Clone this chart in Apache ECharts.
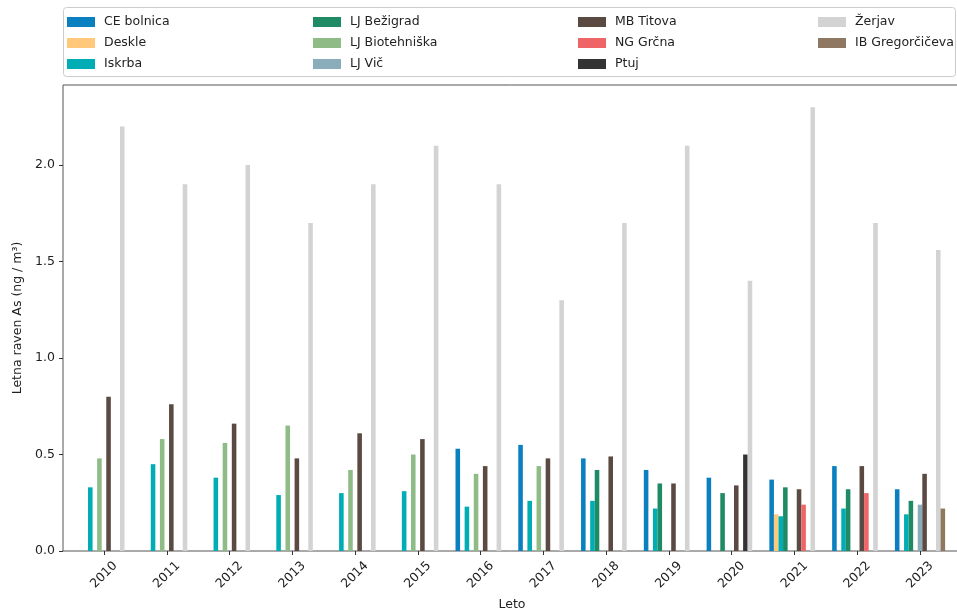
<!DOCTYPE html>
<html><head><meta charset="utf-8">
<script src="https://cdn.jsdelivr.net/npm/echarts@6/dist/echarts.min.js"></script>
<style>html,body{margin:0;padding:0;background:#fff}#c{width:957px;height:610px}</style>
</head><body><div id="c"></div>
<script>
// ---- data ----
const years = ['2010','2011','2012','2013','2014','2015','2016','2017','2018','2019','2020','2021','2022','2023'];
const ceBolnica      = [null, null, null, null, null, null, 0.53, 0.55, 0.48, 0.42, 0.38, 0.37, 0.44, 0.32];
const deskle         = [null, null, null, null, null, null, null, null, null, null, null, 0.19, null, null];
const iskrba         = [0.33, 0.45, 0.38, 0.29, 0.30, 0.31, 0.23, 0.26, 0.26, 0.22, null, 0.18, 0.22, 0.19];
const ljBezigrad     = [null, null, null, null, null, null, null, null, 0.42, 0.35, 0.30, 0.33, 0.32, 0.26];
const ljBiotehniska  = [0.48, 0.58, 0.56, 0.65, 0.42, 0.50, 0.40, 0.44, null, null, null, null, null, null];
const ljVic          = [null, null, null, null, null, null, null, null, null, null, null, null, null, 0.24];
const mbTitova       = [0.80, 0.76, 0.66, 0.48, 0.61, 0.58, 0.44, 0.48, 0.49, 0.35, 0.34, 0.32, 0.44, 0.40];
const ngGrcna        = [null, null, null, null, null, null, null, null, null, null, null, 0.24, 0.30, null];
const ptuj           = [null, null, null, null, null, null, null, null, null, null, 0.50, null, null, null];
const zerjav         = [2.2, 1.9, 2.0, 1.7, 1.9, 2.1, 1.9, 1.3, 1.7, 2.1, 1.4, 2.3, 1.7, 1.56];
const ibGregorciceva = [null, null, null, null, null, null, null, null, null, null, null, null, null, 0.22];
const seriesNames = ['CE bolnica','Deskle','Iskrba','LJ Bežigrad','LJ Biotehniška','LJ Vič','MB Titova','NG Grčna','Ptuj','Žerjav','IB Gregorčičeva'];
const seriesValues = [ceBolnica, deskle, iskrba, ljBezigrad, ljBiotehniska, ljVic, mbTitova, ngGrcna, ptuj, zerjav, ibGregorciceva];
const yTicks = [0, 0.5, 1.0, 1.5, 2.0];
const yMax = 2.415;

// ---- styles ----
const seriesColors = ['#0a80c0','#ffc87a','#00adb5','#1f8b64','#8fbb87','#8badb9','#5b4a42','#ef6466','#333333','#d3d3d3','#8f7861'];
const FONT = 'DejaVu Sans';
const TXT = '#222';

const chart = echarts.init(document.getElementById('c'), null, {renderer: 'canvas'});

const legendCols = [[0,1,2],[3,4,5],[6,7,8],[9,10]];
const legendLeft = [67, 313, 578, 818];
const legends = legendCols.map((idx, k) => ({
  orient: 'vertical', left: legendLeft[k], top: 15, padding: 0,
  itemWidth: 28, itemHeight: 10, itemGap: 7, icon: 'rect',
  selectedMode: false,
  data: idx.map(i => seriesNames[i]),
  textStyle: {fontFamily: FONT, fontSize: 12.5, color: TXT, lineHeight: 14, padding: [0,0,0,4]}
}));

const option = {
  animation: false,
  backgroundColor: '#fff',
  graphic: [{
    type: 'rect', z: -1, silent: true,
    shape: {x: 63.5, y: 7.5, width: 892, height: 69, r: 3},
    style: {fill: '#fff', stroke: '#cccccc', lineWidth: 1}
  }],
  legend: legends,
  grid: [
    {left: 63, right: -20, top: 85, bottom: 59, show: true, borderColor: '#555', borderWidth: 1,
      backgroundColor: 'transparent', containLabel: false, outerBoundsMode: 'none'},
    {left: 72.6, right: 5.6, top: 85, bottom: 59, containLabel: false, outerBoundsMode: 'none'}
  ],
  xAxis: [
    {gridIndex: 0, type: 'value', show: false, min: 0, max: 1},
    {gridIndex: 1, type: 'category', data: years,
      axisLine: {show: false},
      axisTick: {show: true, alignWithLabel: true, length: 4, lineStyle: {color: '#333'}},
      axisLabel: {rotate: 45, margin: 24, align: 'center', verticalAlign: 'middle',
        fontFamily: FONT, fontSize: 12.5, color: TXT},
      name: 'Leto', nameLocation: 'middle', nameGap: 44,
      nameTextStyle: {fontFamily: FONT, fontSize: 12.5, color: TXT}
    }
  ],
  yAxis: [
    {gridIndex: 0, type: 'value', min: 0, max: yMax,
      axisLine: {show: false},
      splitLine: {show: false},
      axisTick: {show: true, length: 4, lineStyle: {color: '#333'}, customValues: yTicks},
      axisLabel: {margin: 8, fontFamily: FONT, fontSize: 12.5, color: TXT,
        customValues: yTicks, formatter: v => v.toFixed(1)},
      name: 'Letna raven As (ng / m³)', nameLocation: 'middle', nameGap: 22,
      nameTextStyle: {fontFamily: FONT, fontSize: 12.5, color: TXT}
    },
    {gridIndex: 1, type: 'value', min: 0, max: yMax, show: false}
  ],
  series: seriesNames.map((name, i) => ({
    name, type: 'bar', xAxisIndex: 1, yAxisIndex: 1,
    data: seriesValues[i],
    barGap: '0%', barCategoryGap: '20%',
    itemStyle: {color: seriesColors[i]}
  }))
};
chart.setOption(option);
</script></body></html>
